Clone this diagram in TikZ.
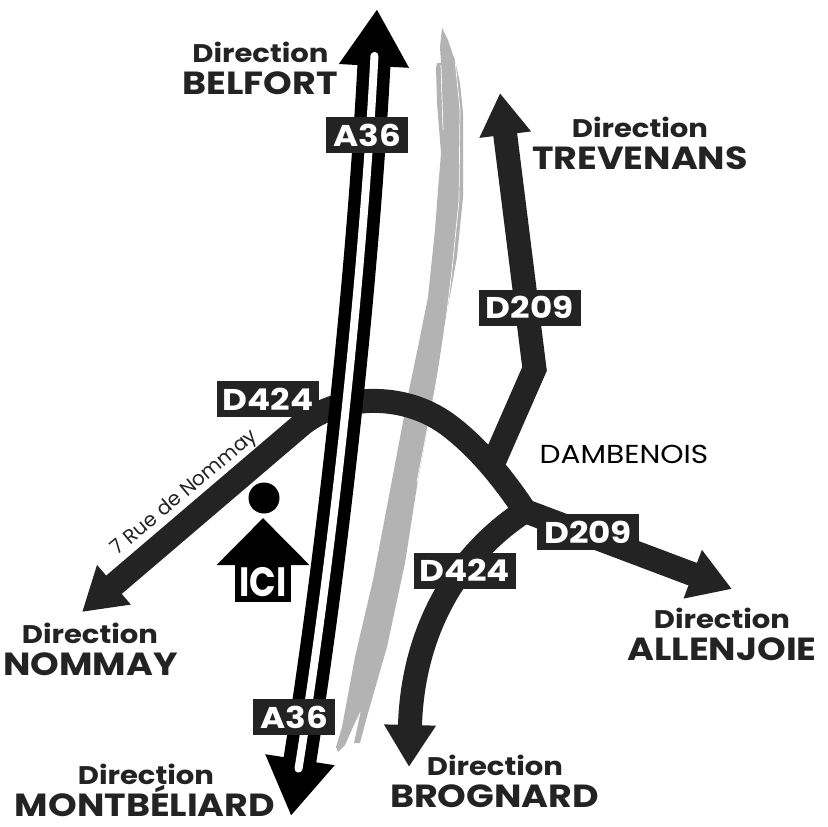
\documentclass[tikz,border=0pt]{standalone}
\usepackage{fontspec}
\setmainfont{Poppins}
\newfontfamily\signfont[FakeStretch=1.14]{Poppins}
\usetikzlibrary{arrows.meta,positioning,calc}
\definecolor{roaddark}{HTML}{232323}
\definecolor{brushgray}{HTML}{B3B3B3}
\tikzset{
    roadtip/.tip={Triangle[length=42pt,width=49pt]},
    motorwaytip/.tip={Triangle[length=57pt,width=66pt]},
    roadline/.style={line width=24pt,color=roaddark},
    motorway/.style={line width=33pt,color=black},
    roadsign/.style={fill=roaddark,text=white,inner sep=0pt,minimum width=102pt,minimum height=36pt,
        font=\signfont\fontsize{30}{30}\selectfont\bfseries},
    motorwaysign/.style={roadsign,minimum width=82pt},
    dirsmall/.style={anchor=base,text=roaddark,inner sep=0pt,font=\signfont\fontsize{25.5}{25.5}\selectfont\bfseries},
    dirbig/.style={anchor=base,text=roaddark,inner sep=0pt,font=\signfont\fontsize{32}{32}\selectfont\bfseries},
}
\begin{document}
\begin{tikzpicture}[x=1pt,y=-1pt]
    \useasboundingbox (0,0) rectangle (828,827);

    % brush stroke behind the roads
    \fill[brushgray] (442,28) -- (448,40) -- (453,55) -- (455,60) -- (460,83) -- (463,113) -- (463,153)
        -- (463,197) -- (457,257) -- (445,323) -- (435,390) -- (418,480) -- (405,563) -- (387,647)
        -- (368,713) -- (360,743) -- (354,743) -- (361,710) -- (353,727) -- (345,745) -- (338,752)
        -- (336,747) -- (342,727) -- (355,657) -- (373,580) -- (392,480) -- (409,390) -- (418,347)
        -- (428,297) -- (435,230) -- (438,190) -- (441,153) -- (437,103) -- (436,68) -- (437,63)
        -- (441,63) -- (440,47) -- cycle;
    \draw[white,line width=0.7pt] (455,60) -- (460,110) -- (459,200) -- (452,270) -- (443,345) -- (433,400) -- (417,482);
    \draw[white,line width=0.7pt] (441,65) -- (443,130);

    \coordinate (belfortTip) at (377,9);
    \coordinate (montbeliardTip) at (291,816);
    \coordinate (trevenansTip) at (500,93);
    \coordinate (nommayTip) at (82,612);
    \coordinate (allenjoieTip) at (732,589);
    \coordinate (brognardTip) at (409,767);
    \coordinate (d209Bend) at (534.5,369);
    \coordinate (d209Join) at (492,466);
    \coordinate (crossing) at (525,511);
    \coordinate (nommayBend) at (300,426);
    \coordinate (crest) at (447,424);

    % departmental roads
    \draw[roadline,{roadtip}-] (trevenansTip) -- (d209Bend) -- (d209Join);
    \draw[roadline,{roadtip}-] (brognardTip) .. controls (412,640) and (450,560) .. (crossing);
    \draw[roadline,{roadtip}-{roadtip}] (nommayTip) -- (nommayBend)
        .. controls (335,396) and (400,390) .. (crest)
        .. controls (477,446) and (503,478) .. (crossing) -- (allenjoieTip);

    % motorway
    \draw[motorway,{motorwaytip}-{motorwaytip}] (montbeliardTip)
        .. controls (334,546) and (362.4,279) .. (belfortTip);
    \draw[white,line width=8pt,line cap=round,shorten <=48pt,shorten >=47pt] (montbeliardTip)
        .. controls (334,546) and (362.4,279) .. (belfortTip);

    % signs
    \node[motorwaysign] (a36top) at (367,135) {A36};
    \node[motorwaysign] (a36low) at (294,717) {A36};
    \node[roadsign] (d424top) at (268,399) {D424};
    \node[roadsign] (d424low) at (464.5,570.5) {D424};
    \node[roadsign] (d209top) at (529.5,307.5) {D209};
    \node[roadsign] (d209low) at (588,532) {D209};

    % here marker
    \coordinate (iciBase) at (263,602);
    \coordinate (iciTip) at (263,518);
    \node[circle,fill=black,inner sep=0pt,minimum size=31pt] (iciDot) at (264,498) {};
    \draw[line width=56pt,-{Triangle[length=47pt,width=90pt]}] (iciBase) -- (iciTip);
    \node[text=white,inner sep=0pt,xscale=0.85,font=\fontsize{41}{41}\selectfont\bfseries] (ici) at (263,582.5) {ICI};

    % place names
    \node[dirsmall] (belfortDir) at (260.5,62) {Direction};
    \node[dirbig] (belfort) at (260,94) {BELFORT};
    \node[dirsmall] (trevenansDir) at (640,137) {Direction};
    \node[dirbig] (trevenans) at (640,169.5) {TREVENANS};
    \node[dirsmall] (nommayDir) at (90,643) {Direction};
    \node[dirbig] (nommay) at (90.5,675.5) {NOMMAY};
    \node[dirsmall] (montbeliardDir) at (146,784) {Direction};
    \node[dirbig] (montbeliard) at (145,816) {MONTBÉLIARD};
    \node[dirsmall] (brognardDir) at (495,775) {Direction};
    \node[dirbig] (brognard) at (494.5,807) {BROGNARD};
    \node[dirsmall] (allenjoieDir) at (722,628) {Direction};
    \node[dirbig] (allenjoie) at (722,660) {ALLENJOIE};
    \node[anchor=base,inner sep=0pt,font=\signfont\fontsize{26}{26}\selectfont] (dambenois) at (624,463) {DAMBENOIS};
    \node[inner sep=0pt,rotate=40,text=roaddark,font=\fontsize{20}{20}\selectfont] (rue) at (185,493) {7 Rue de Nommay};
\end{tikzpicture}
\end{document}
